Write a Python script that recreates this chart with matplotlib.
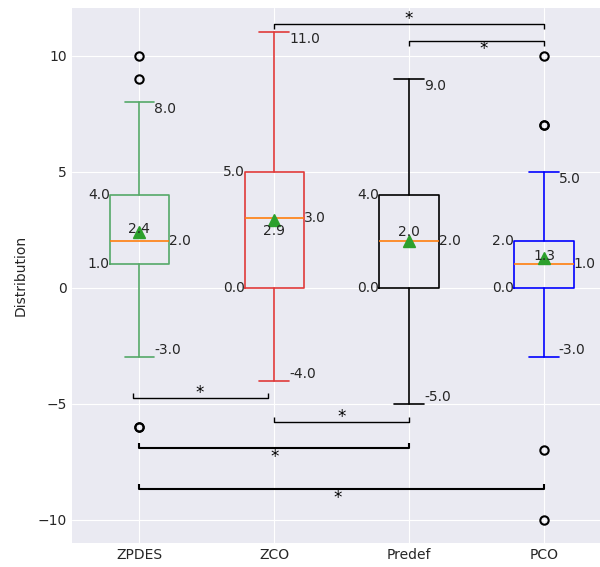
import numpy as np
import matplotlib
matplotlib.use('Agg')
import matplotlib.pyplot as plt

plt.style.use('seaborn-v0_8-darkgrid')
plt.rcParams['font.family'] = ['DejaVu Sans']

groups = ["ZPDES", "ZCO", "Predef", "PCO"]
whislo = [-3.0, -4.0, -5.0, -3.0]
q1 = [1.0, 0.0, 0.0, 0.0]
med = [2.0, 3.0, 2.0, 1.0]
q3 = [4.0, 5.0, 4.0, 2.0]
whishi = [8.0, 11.0, 9.0, 5.0]
means = [2.4, 2.9, 2.0, 1.3]
fliers = [[10, 9, -6, -6], [], [], [10, 7, 7, -7, -10]]

# significance pairs (group index a, group index b)
sig_pairs = [(1, 3), (2, 3), (0, 1), (1, 2), (0, 2), (0, 3)]
sig_labels = ["*", "*", "*", "*", "*", "*"]

colors = ["#55a868", "#e03a3a", "black", "blue"]
mean_label_dy = [0.15, -0.45, 0.4, 0.05]

stats = []
for i, g in enumerate(groups):
    stats.append({"label": g, "whislo": whislo[i], "q1": q1[i], "med": med[i],
                  "q3": q3[i], "whishi": whishi[i], "mean": means[i],
                  "fliers": fliers[i]})

fig = plt.figure(figsize=(6, 5.67), dpi=100)
ax = fig.add_axes([0.12, 0.0423, 0.899, 0.9436])

width = 0.44
positions = np.arange(1, len(groups) + 1)
for i, s in enumerate(stats):
    c = colors[i]
    ax.bxp([s], positions=[positions[i]], widths=width, showmeans=True,
           boxprops=dict(color=c, linewidth=1.2),
           whiskerprops=dict(color=c, linewidth=1.2),
           capprops=dict(color=c, linewidth=1.2),
           medianprops=dict(color="#ff7f0e", linewidth=1.2),
           meanprops=dict(marker="^", markerfacecolor="#2ca02c",
                          markeredgecolor="#2ca02c", markersize=8),
           flierprops=dict(marker="o", markerfacecolor="none",
                           markeredgecolor="black", markersize=6,
                           markeredgewidth=1.5))

txt = dict(fontsize=10, color="#262626")
for i, p in enumerate(positions):
    half = width / 2
    cap = width / 4
    ax.text(p + cap, whishi[i], f"{whishi[i]:.1f}", ha="left", va="top", **txt)
    ax.text(p + cap, whislo[i], f"{whislo[i]:.1f}", ha="left", va="bottom", **txt)
    ax.text(p - half, q3[i], f"{q3[i]:.1f}", ha="right", va="center", **txt)
    ax.text(p - half, q1[i], f"{q1[i]:.1f}", ha="right", va="center", **txt)
    ax.text(p + half, med[i], f"{med[i]:.1f}", ha="left", va="center", **txt)
    ax.text(p, means[i] + mean_label_dy[i], f"{means[i]:.1f}", ha="center",
            va="center", **txt)

# bracket placement
bracket_y = [11.35, 10.62, -4.75, -5.78, -6.92, -8.69]
bracket_dx = [0, 0, -0.05, 0, 0, 0]
bracket_lw = [1.0, 1.0, 1.0, 1.0, 1.5, 1.5]
star_y = [11.68, 10.38, -4.45, -5.5, -7.2, -8.96]
star_dx = [0, 0.05, 0, 0, 0, -0.03]
for k, (a, b) in enumerate(sig_pairs):
    y = bracket_y[k]
    h = -0.22 if y > 0 else 0.22
    xa, xb = positions[a] + bracket_dx[k], positions[b] + bracket_dx[k]
    ax.plot([xa, xa, xb, xb], [y + h, y, y, y + h], color="black",
            lw=bracket_lw[k], solid_capstyle="butt")
    xm = (xa + xb) / 2 + star_dx[k]
    ax.text(xm, star_y[k], sig_labels[k], ha="center", va="center_baseline",
            fontsize=12, color="black")

ax.set_xlim(0.5, 4.5)
ax.set_ylim(-11, 12.05)
ax.set_yticks([-10, -5, 0, 5, 10])
ax.set_xticks(positions)
ax.set_xticklabels(groups)
ax.set_ylabel("Distribution", labelpad=7.5)

fig.savefig("out.png", dpi=100)
